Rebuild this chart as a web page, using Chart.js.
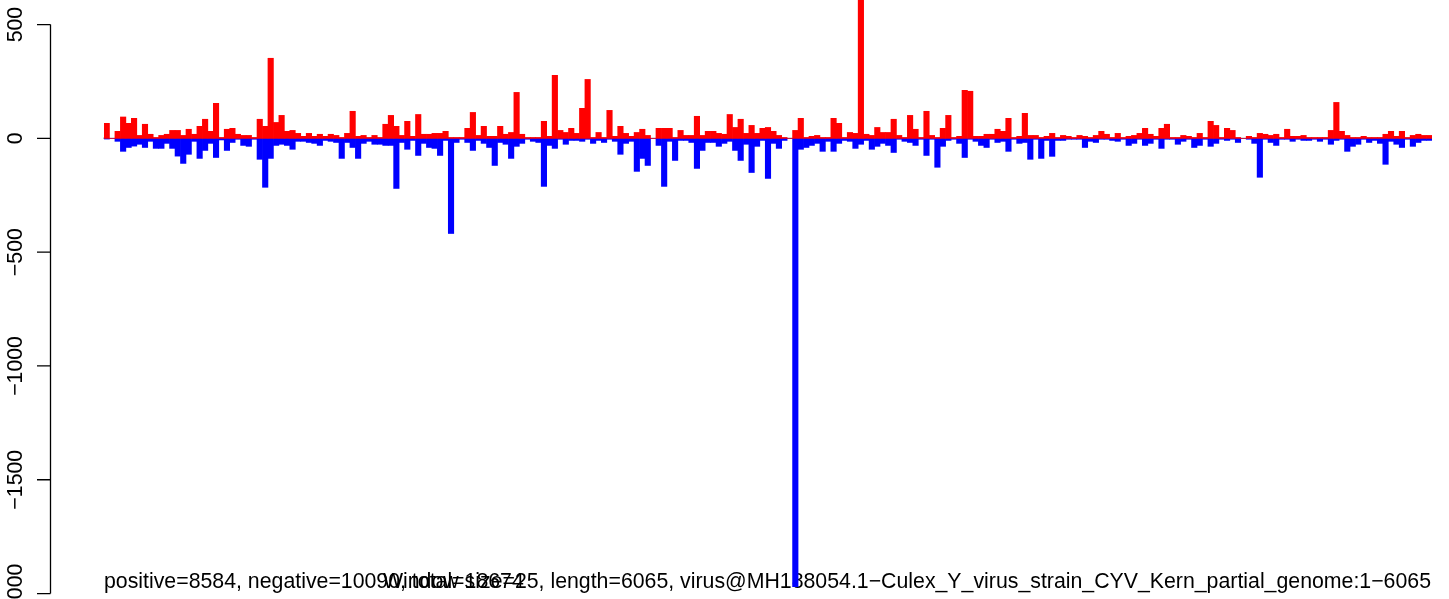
<!DOCTYPE html>
<html>
<head>
<meta charset="utf-8">
<script src="https://cdn.jsdelivr.net/npm/chart.js@4/dist/chart.umd.min.js"></script>
<style>
  html, body { margin: 0; padding: 0; background: #fff; }
  canvas { display: block; }
</style>
</head>
<body>
<canvas id="coverageChart" width="1449" height="599"></canvas>
<script>
// window coverage, 25 nt windows over 6065 nt
const windowSize = 25;
const positive = [
  66,0,31,94,66,88,13,62,18,4,13,18,35,35,13,40,18,53,84,31,154,4,40,44,18,13,13,4,84,53,352,70,101,31,35,22,9,22,9,18,
  9,18,13,4,22,119,9,13,4,13,4,62,101,53,13,75,9,105,18,18,22,22,31,4,4,4,44,114,13,53,9,9,53,18,26,202,18,4,4,4,
  75,9,277,35,26,44,22,132,259,4,26,4,123,9,53,22,9,26,40,13,0,44,44,44,4,35,13,13,97,13,31,31,22,18,105,48,84,22,57,22,
  44,48,31,13,4,0,35,88,4,9,13,4,4,88,66,4,26,22,700,18,13,48,26,26,84,13,4,101,40,4,119,13,4,44,101,4,9,211,207,9,9,
  18,18,40,31,88,4,9,110,13,13,4,9,22,4,13,9,4,13,9,4,13,31,18,4,22,4,9,13,22,44,18,9,44,62,4,4,13,9,4,
  22,4,75,57,4,44,35,4,0,9,4,22,18,13,18,4,40,9,9,13,4,4,4,4,35,158,31,13,4,4,9,4,4,4,18,31,9,31,4,13,18,13,13
];
// negative strand counts (plotted below zero)
const negative = [
  3,0,13,57,40,34,26,40,13,44,44,22,44,78,110,70,13,88,53,22,84,7,53,18,4,31,35,4,92,215,88,31,26,31,48,13,13,18,22,31,
  9,13,18,88,18,40,88,22,13,26,26,31,31,220,18,48,9,75,22,40,44,75,9,418,18,4,18,53,9,22,40,119,18,26,88,35,22,4,13,18,
  211,31,44,4,26,9,9,13,4,22,9,18,4,13,70,22,13,145,88,119,0,31,211,13,97,9,9,18,132,53,18,18,35,22,13,53,97,26,150,35,
  9,176,22,44,9,0,1970,48,40,31,22,57,13,57,22,9,13,44,26,9,48,35,22,31,62,4,13,18,31,4,75,4,127,35,9,4,22,84,4,13,31,
  40,4,18,13,57,4,22,18,92,4,88,9,79,9,9,4,4,4,40,13,18,4,4,9,13,4,31,22,4,31,22,4,44,4,4,26,13,4,40,
  31,4,35,22,4,9,4,18,0,4,22,171,4,18,31,4,4,13,4,9,9,4,13,4,26,9,4,57,35,26,4,18,9,22,114,13,26,40,4,35,18,9,9
];
const yTicks = [500, 0, -500, -1000, -1500, -2000];
const leftNote = 'positive=8584, negative=10090, total=18674';
const rightNote = 'Window size=25, length=6065, virus@MH188054.1\u2212Culex_Y_virus_strain_CYV_Kern_partial_genome:1\u22126065';

const labels = positive.map((_, i) => i * windowSize + 1);
const FONT = '21.3px "Liberation Sans", Arial, Helvetica, sans-serif';

const fmt = v => (v < 0 ? '\u2212' + Math.abs(v) : String(v));

// R-style left axis + bottom notes
const rStyle = {
  id: 'rStyle',
  beforeDatasetsDraw(chart) {
    const ctx = chart.ctx;
    const y = chart.scales.y;
    const area = chart.chartArea;
    const y0 = y.getPixelForValue(0);

    ctx.save();
    // faint baseline, shows only where both strands are empty
    ctx.strokeStyle = '#bebebe';
    ctx.lineWidth = 1.5;
    ctx.beginPath();
    ctx.moveTo(area.left - 1, y0);
    ctx.lineTo(area.right, y0);
    ctx.stroke();

    // notes along the bottom
    ctx.fillStyle = '#000';
    ctx.font = FONT;
    ctx.textBaseline = 'alphabetic';
    ctx.textAlign = 'left';
    ctx.fillText(leftNote, 104, 588);
    ctx.textAlign = 'right';
    ctx.fillText(rightNote, 1431, 588);
    ctx.restore();
  },
  afterDraw(chart) {
    const ctx = chart.ctx;
    const y = chart.scales.y;
    const axisX = 50.5;
    ctx.save();
    ctx.strokeStyle = '#000';
    ctx.lineWidth = 1.3;
    ctx.beginPath();
    ctx.moveTo(axisX, y.getPixelForValue(yTicks[0]));
    ctx.lineTo(axisX, y.getPixelForValue(yTicks[yTicks.length - 1]));
    yTicks.forEach(t => {
      const py = y.getPixelForValue(t);
      ctx.moveTo(axisX, py);
      ctx.lineTo(37, py);
    });
    ctx.stroke();

    ctx.fillStyle = '#000';
    ctx.font = FONT;
    ctx.textAlign = 'center';
    ctx.textBaseline = 'alphabetic';
    yTicks.forEach(t => {
      const py = y.getPixelForValue(t);
      ctx.save();
      ctx.translate(22, py);
      ctx.rotate(-Math.PI / 2);
      ctx.fillText(fmt(t), 0, 0);
      ctx.restore();
    });
    ctx.restore();
  }
};

new Chart(document.getElementById('coverageChart').getContext('2d'), {
  type: 'bar',
  data: {
    labels: labels,
    datasets: [
      {
        label: 'positive',
        data: positive,
        backgroundColor: '#ff0000',
        borderWidth: 0,
        barPercentage: 1,
        categoryPercentage: 1
      },
      {
        label: 'negative',
        data: negative.map(v => -v),
        backgroundColor: '#0000ff',
        borderWidth: 0,
        barPercentage: 1,
        categoryPercentage: 1
      }
    ]
  },
  options: {
    responsive: false,
    devicePixelRatio: 1,
    animation: false,
    layout: { padding: { left: 104, right: 17, top: 0, bottom: 0 } },
    plugins: {
      legend: { display: false },
      tooltip: { enabled: false }
    },
    scales: {
      x: { display: false, stacked: true, offset: true, grid: { display: false } },
      y: { display: false, stacked: true, min: -2024, max: 608, grid: { display: false } }
    }
  },
  plugins: [rStyle]
});
</script>
</body>
</html>
